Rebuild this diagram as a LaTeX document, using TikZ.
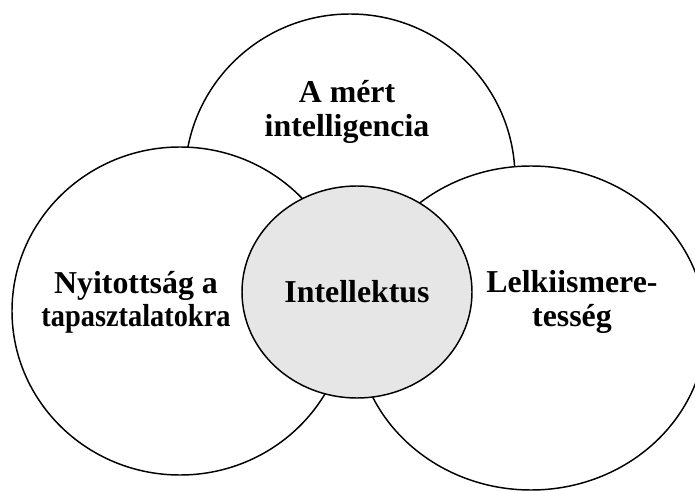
\documentclass[tikz,border=0pt]{standalone}
\usepackage{fontspec}
\setmainfont{Liberation Serif}
\usetikzlibrary{shapes.geometric}
\definecolor{coregray}{HTML}{E6E6E6}
\begin{document}
\begin{tikzpicture}[x=0.75pt, y=-0.75pt]
  % Define styles
  \tikzstyle{sphere} = [ellipse, draw, line width=1.1pt, fill=white, inner sep=0pt]
  \tikzstyle{core} = [ellipse, draw, line width=1.1pt, fill=coregray, inner sep=0pt, minimum width=172.5pt, minimum height=159pt, font=\fontsize{23.9}{25}\selectfont\bfseries]
  \tikzstyle{bubbletext} = [align=center, inner sep=0pt, font=\fontsize{23.9}{25}\selectfont\bfseries]

  \useasboundingbox (0,0) rectangle (695,491);
  \clip (0,0) rectangle (695,491);

  % Outer circles
  \node[sphere, minimum width=247.5pt, minimum height=246pt] (measured) at (350,178) {};
  \node[sphere, minimum width=252pt, minimum height=246pt] (openness) at (180,311) {};
  \node[sphere, minimum width=262.5pt, minimum height=243pt] (conscient) at (531,328) {};

  % Center
  \node[core] (intellect) at (357,292) {Intellektus};

  % Texts in the circles
  \node[bubbletext] (measuredtext) at (347,112) {A mért\\intelligencia};
  \node[bubbletext] (opentext) at (136,302) {Nyitottság a\\\scalebox{0.89}[1]{tapasztalatokra}};
  \node[bubbletext] (consctext) at (572,302) {Lelkiismere-\\tesség};

\end{tikzpicture}
\end{document}
